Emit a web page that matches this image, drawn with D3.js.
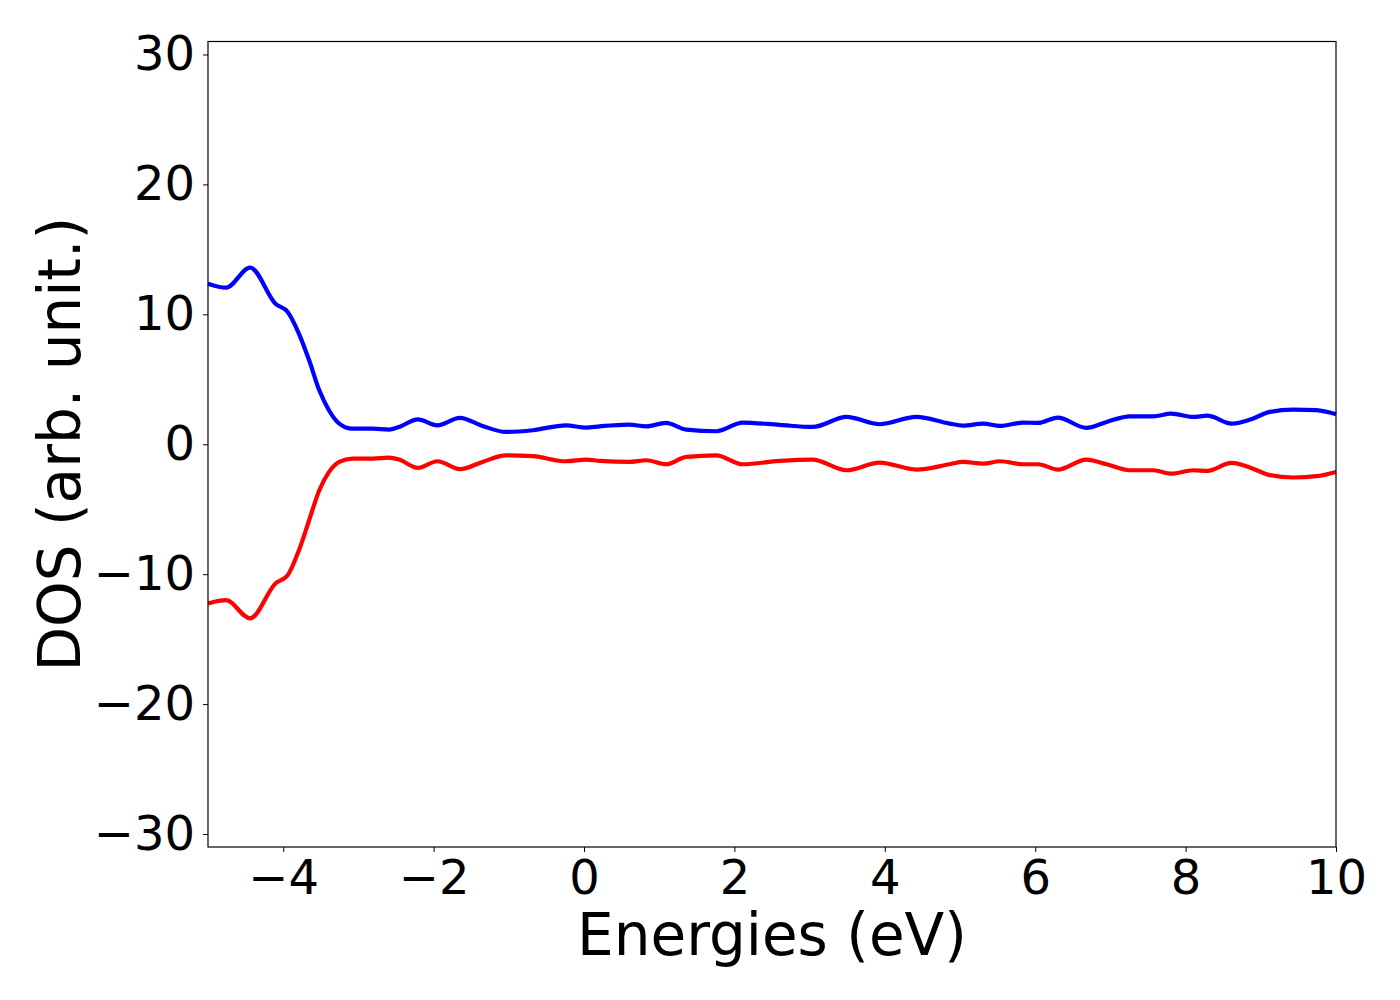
<!DOCTYPE html>
<html>
<head>
<meta charset="utf-8" />
<title>DOS</title>
<script src="https://d3js.org/d3.v7.min.js"></script>
<style>
  body { margin: 0; background: #fff; }
  text { font-family: "DejaVu Sans", sans-serif; }
</style>
</head>
<body>
<svg width="1400" height="1000"></svg>
<script>
// energies (eV) shared by both spin channels
const energies = [-5.0, -4.76, -4.44, -4.10, -3.94, -3.79, -3.655, -3.52, -3.39, -3.255, -3.08, -2.81, -2.59, -2.46,
  -2.21, -1.95, -1.65, -1.35, -1.04, -0.68, -0.24, 0.03, 0.21, 0.60, 0.83, 1.09, 1.36, 1.76, 2.11, 2.60,
  3.04, 3.49, 3.93, 4.42, 4.86, 5.04, 5.31, 5.53, 5.84, 6.04, 6.30, 6.68, 6.95, 7.26, 7.57, 7.81, 8.10,
  8.29, 8.61, 8.86, 9.12, 9.43, 9.74, 10.0];

const spinUp = [12.36, 12.05, 13.6, 10.8, 10.18, 8.5, 6.46, 4.15, 2.6, 1.59, 1.2, 1.2, 1.13, 1.33,
  1.92, 1.46, 2.03, 1.41, 0.95, 1.08, 1.46, 1.28, 1.38, 1.51, 1.38, 1.64, 1.13, 1.0, 1.67, 1.49,
  1.33, 2.1, 1.54, 2.1, 1.59, 1.44, 1.59, 1.41, 1.67, 1.64, 2.05, 1.26, 1.72, 2.15, 2.15, 2.36, 2.1,
  2.2, 1.59, 1.9, 2.49, 2.67, 2.62, 2.31];

const spinDown = [-12.26, -12.0, -13.4, -10.7, -10.08, -8.15, -5.85, -3.54, -2.13, -1.36, -1.1, -1.1, -1.03, -1.18,
  -1.82, -1.31, -1.92, -1.36, -0.85, -0.92, -1.31, -1.18, -1.28, -1.36, -1.23, -1.54, -0.97, -0.85, -1.54, -1.28,
  -1.18, -2.0, -1.41, -1.95, -1.54, -1.36, -1.49, -1.31, -1.54, -1.54, -1.95, -1.18, -1.54, -2.0, -2.0, -2.26, -2.0,
  -2.05, -1.44, -1.8, -2.38, -2.56, -2.46, -2.13];

const xTicks = [-4, -2, 0, 2, 4, 6, 8, 10];
const yTicks = [-30, -20, -10, 0, 10, 20, 30];

const svg = d3.select("svg");
const margin = { left: 208, right: 64, top: 41.5, bottom: 153 };
const width = 1400 - margin.left - margin.right;
const height = 1000 - margin.top - margin.bottom;

const g = svg.append("g").attr("transform", `translate(${margin.left},${margin.top})`);

const x = d3.scaleLinear().domain([-5, 10]).range([0, width]);
const y = d3.scaleLinear().domain([-31, 31]).range([height, 0]);

const fmt = (d) => (d < 0 ? "\u2212" + Math.abs(d) : String(d));

// lines
const line = (vals) => d3.line()
  .x((d, i) => x(energies[i]))
  .y((d) => y(d))
  .curve(d3.curveMonotoneX)(vals);

g.append("path").attr("d", line(spinUp))
  .attr("fill", "none").attr("stroke", "#0000ff").attr("stroke-width", 4.2);
g.append("path").attr("d", line(spinDown))
  .attr("fill", "none").attr("stroke", "#ff0000").attr("stroke-width", 4.2);

// axes
const xAxis = g.append("g").attr("transform", `translate(0,${height})`)
  .call(d3.axisBottom(x).tickValues(xTicks).tickFormat(fmt).tickSize(5).tickPadding(8));
const yAxis = g.append("g")
  .call(d3.axisLeft(y).tickValues(yTicks).tickFormat(fmt).tickSize(5).tickPadding(8));

[xAxis, yAxis].forEach((a) => {
  a.select(".domain").remove();
  a.selectAll(".tick line").attr("stroke", "#000").attr("stroke-width", 1);
  a.selectAll(".tick text").attr("fill", "#000").style("font-size", "48px")
    .style("font-family", "'DejaVu Sans', sans-serif");
});

// frame
g.append("rect").attr("width", width).attr("height", height)
  .attr("fill", "none").attr("stroke", "#000").attr("stroke-width", 1.2);

// labels
svg.append("text")
  .attr("x", margin.left + width / 2).attr("y", 955)
  .attr("text-anchor", "middle").style("font-size", "58px")
  .text("Energies (eV)");

svg.append("text")
  .attr("transform", `translate(80,${margin.top + height / 2}) rotate(-90)`)
  .attr("text-anchor", "middle").style("font-size", "58px")
  .text("DOS (arb. unit.)");
</script>
</body>
</html>
